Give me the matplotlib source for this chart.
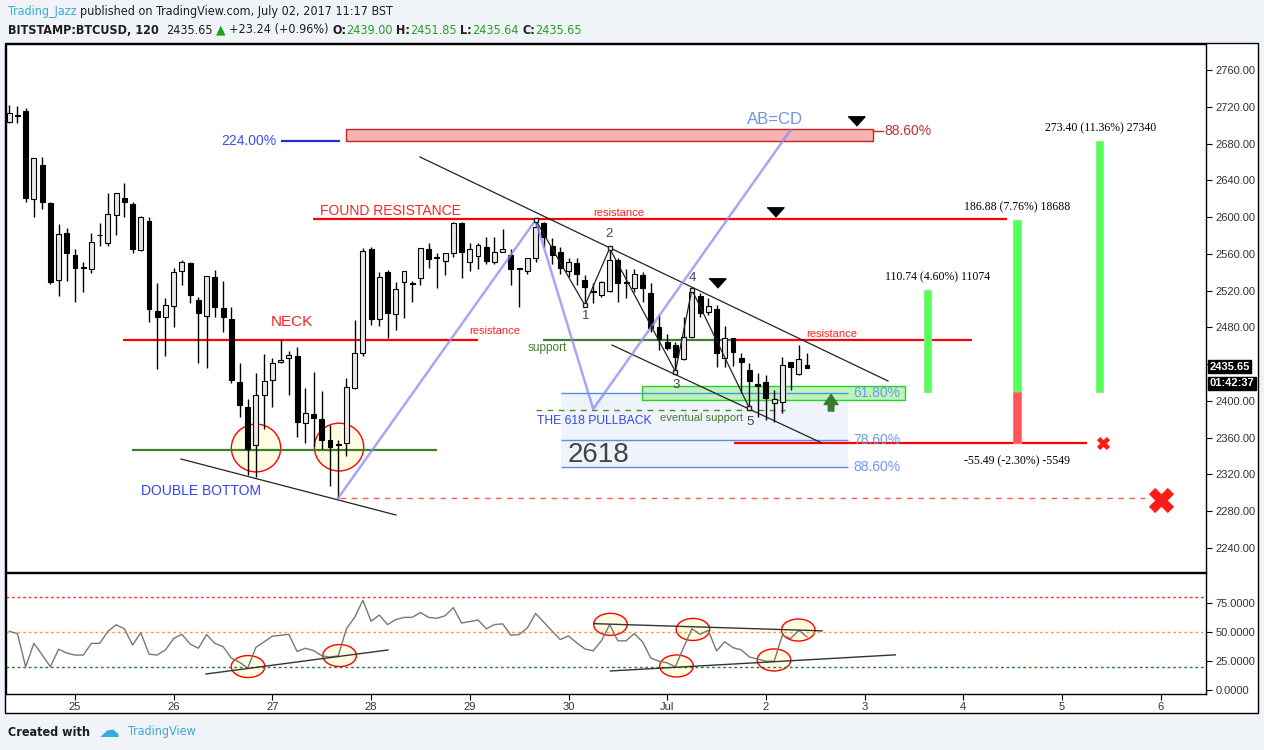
import matplotlib
matplotlib.use('Agg')
import matplotlib.pyplot as plt
import numpy as np
from matplotlib.patches import Rectangle, Ellipse
from matplotlib import font_manager
from matplotlib.font_manager import FontProperties
from matplotlib.transforms import blended_transform_factory

# ---------------- data (2h bars, BITSTAMP:BTCUSD) ----------------
# bar i is at (i - 8) / 12 days after 25 Jun 00:00
opens = [2703, 2711, 2715, 2620, 2657, 2615, 2532, 2583, 2559, 2545.5, 2543, 2580, 2572, 2602, 2621, 2614,
         2564, 2596, 2498, 2491, 2503, 2541, 2550, 2510, 2492, 2535, 2501, 2489, 2421, 2393, 2352, 2406,
         2423, 2442, 2447, 2449, 2376, 2386, 2380, 2358, 2353, 2354, 2414, 2452, 2565, 2489, 2540, 2495,
         2529, 2528, 2534, 2565, 2557, 2552, 2561, 2594, 2551, 2558, 2567, 2551, 2562, 2559, 2545, 2541,
         2555, 2594, 2569, 2562, 2541, 2550, 2532, 2520, 2515, 2520, 2553, 2529, 2523, 2537, 2517, 2480,
         2464, 2461, 2446, 2470, 2514, 2497, 2500, 2447, 2468, 2447, 2434, 2418, 2421, 2398, 2399, 2442,
         2429, 2439.00]
highs = [2722, 2721, 2719, 2664, 2665, 2616, 2592, 2588, 2565, 2551, 2583, 2594, 2626, 2626, 2637, 2616,
         2601, 2600, 2528, 2512, 2545, 2553, 2551, 2513, 2536, 2542, 2531, 2502, 2441, 2402, 2430, 2451,
         2447, 2467, 2454, 2459, 2414, 2431, 2411, 2374, 2358, 2425, 2488, 2566, 2568, 2540, 2542, 2529,
         2541, 2530, 2566, 2572, 2561, 2561, 2595, 2595, 2572, 2572, 2578, 2578, 2587, 2565, 2545, 2556,
         2597, 2595, 2577, 2567, 2556, 2555, 2537, 2528, 2530, 2566, 2555, 2544, 2543, 2540, 2528, 2493,
         2473, 2464, 2491, 2521, 2517, 2512, 2504, 2481, 2469, 2452, 2441, 2430, 2428, 2412, 2448, 2442,
         2461, 2451.85]
lows = [2702, 2702, 2616, 2600, 2609, 2527, 2514, 2530, 2508, 2518, 2539, 2569, 2569, 2580, 2600, 2561,
        2563, 2486, 2435, 2449, 2480, 2526, 2506, 2441, 2436, 2491, 2475, 2419, 2382, 2319, 2317, 2370,
        2393, 2441, 2406, 2361, 2354, 2351, 2348, 2308, 2294, 2340, 2413, 2449, 2483, 2481, 2469, 2477,
        2490, 2508, 2526, 2545, 2523, 2537, 2557, 2534, 2541, 2543, 2549, 2549, 2562, 2526, 2502, 2538,
        2551, 2568, 2549, 2538, 2535, 2526, 2504, 2507, 2513, 2519, 2508, 2512, 2519, 2508, 2475, 2455,
        2455, 2432, 2444, 2468, 2491, 2493, 2437, 2437, 2438, 2409, 2392, 2382, 2379, 2377, 2387, 2412,
        2428, 2435.64]
closes = [2713, 2710, 2621, 2664, 2616, 2529, 2582, 2561, 2545, 2544.5, 2573, 2581, 2603, 2626, 2616, 2565,
          2600, 2500, 2491, 2504, 2540, 2551, 2515, 2496, 2536, 2502, 2491, 2423, 2396, 2348, 2406, 2422,
          2441, 2445, 2450, 2377, 2387, 2381, 2358, 2350, 2352.5, 2415, 2452, 2563, 2489, 2535, 2496, 2522,
          2541, 2527, 2566, 2554, 2555, 2561, 2594, 2562, 2565, 2570, 2552, 2562, 2565, 2543, 2544, 2555,
          2589, 2578, 2559, 2545, 2551, 2538, 2524, 2519, 2529, 2553, 2528, 2528, 2538, 2523, 2479, 2467,
          2458, 2448, 2470, 2518, 2496, 2503, 2452, 2468, 2453, 2442, 2422, 2416, 2403, 2402, 2439, 2437,
          2446, 2435.65]
rsi = [50.6, 48.6, 20.0, 40.2, 30.4, 20.0, 35.1, 31.8, 30.1, 30.1, 40.2, 40.2, 50.6, 56.2, 52.8, 38.8,
       49.4, 30.9, 30.1, 34.6, 44.4, 48.0, 39.6, 36.0, 47.8, 40.2, 37.4, 27.6, 23.9, 18.9, 36.8, 41.6,
       46.4, 47.2, 48.0, 33.2, 36.0, 34.0, 29.5, 28.4, 29.5, 52.8, 62.6, 77.2, 59.3, 64.6, 56.4, 60.7,
       62.6, 62.6, 66.8, 62.6, 61.8, 64.0, 71.0, 57.8, 59.0, 60.4, 52.8, 56.4, 57.0, 47.2, 47.8, 53.6,
       66.0, 58.4, 50.8, 43.5, 46.6, 40.7, 35.4, 33.7, 42.4, 56.4, 42.4, 42.4, 48.6, 41.6, 27.6, 24.8,
       23.4, 20.0, 36.8, 52.8, 48.0, 51.4, 33.7, 41.6, 36.5, 34.6, 28.4, 26.7, 24.8, 24.8, 47.2, 44.4,
       51.4, 45.8]

day_ticks = list(range(12))
day_labels = ['25', '26', '27', '28', '29', '30', 'Jul', '2', '3', '4', '5', '6']
price_ticks = list(range(2240, 2761, 40))
hidden_price_label = 2440          # covered by the last-price tag
rsi_ticks = [0, 25, 50, 75]
rsi_levels = [80, 50, 20]

# drawing tools (time in days from 25 Jun, price in USD)
neck_level, neck_span = 2466.3, (0.49, 4.08)
dbl_bottom_level, dbl_bottom_span = 2346.6, (0.58, 3.67)
found_res_level, found_res_span = 2597.9, (2.41, 9.44)
support_level, support_span, support_red_span = 2466.3, (4.74, 6.67), (6.67, 9.09)
target_box = (2.746, 8.085, 2682.8, 2695.8)
ext_224_span, ext_224_level = (2.087, 2.685), 2682.8
abcd_idx = [40, 64, 71, 95]
abcd_price = [2294.4, 2596.8, 2391.2, 2694.7]
zigzag_idx = [64, 70, 73, 81, 83, 90]
zigzag_price = [2597, 2504, 2566, 2432, 2521, 2392]
wave_labels = ['1', '2', '3', '4', '5']
wave_label_pos = [(5.177, 2492.4), (5.410, 2581.6), (6.089, 2417.3), (6.251, 2533.7), (6.839, 2377.0)]
upper_channel = [(3.495, 2665.4), (8.237, 2421.7)]
lower_channel = [(5.441, 2460.8), (7.568, 2354.2)]
db_trend = [(1.074, 2336.8), (3.252, 2275.9)]
triangles = [(7.913, 2704.5), (7.092, 2605.5), (6.505, 2528.3)]
fib_span = (4.924, 7.832)
fib_levels = [2408.6, 2357.5, 2328.1]
fib_names = ['61.80%', '78.60%', '88.60%']
green_zone = (5.745, 8.409, 2401.0, 2416.2)
eventual_support_level, eventual_support_span = 2390.1, (4.671, 7.194)
stop_level, stop_span = 2354.2, (6.677, 10.253)
low_level, low_span = 2294.4, (2.685, 10.841)
entry = 2409.7
targets = [2520.4, 2596.6, 2683.1]
target_x = [8.637, 9.544, 10.380]
target_texts = ['110.74 (4.60%) 11074', '186.88 (7.76%) 18688', '273.40 (11.36%) 27340']
stop_text = '-55.49 (-2.30%) -5549'
price_circles = [(1.834, 2348.8), (2.675, 2349.8)]
rsi_circles = [(1.753, 20.2), (2.681, 29.7), (5.425, 56.6), (6.261, 52.2), (6.094, 20.7),
               (7.082, 25.9), (7.328, 51.7)]
rsi_lines = [[(1.327, 13.8), (3.170, 34.5)], [(5.258, 57.2), (7.568, 51.0)],
             [(5.425, 16.4), (8.312, 30.3)]]

# ---------------- figure ----------------
W, H = 1264, 750
fig = plt.figure(figsize=(W / 100, H / 100), dpi=100)
fig.patch.set_facecolor('#f0f3f7')

def fx(px):
    return px / W

def fy(py):
    return 1 - py / H

SANS = 'Liberation Sans'
SERIF = 'Liberation Serif'

# condensed font for header, if one is installed
cond_reg, cond_bold = None, None
for f in font_manager.fontManager.ttflist:
    fn = f.fname.lower()
    if ('condensed' in fn or 'narrow' in fn) and 'sans' in fn and 'mono' not in fn and 'oblique' not in fn and 'italic' not in fn:
        if 'bold' in fn:
            cond_bold = cond_bold or f.fname
        else:
            cond_reg = cond_reg or f.fname
HEAD_SIZE = 9 if cond_reg else 8

def head_props(weight):
    if weight == 'bold' and cond_bold:
        return FontProperties(fname=cond_bold, size=HEAD_SIZE)
    if cond_reg:
        return FontProperties(fname=cond_reg, size=HEAD_SIZE)
    return FontProperties(family=['Roboto', 'DejaVu Sans'], size=HEAD_SIZE, weight=weight)

frame = Rectangle((fx(5), fy(713)), fx(1258) - fx(5), fy(43) - fy(713),
                  transform=fig.transFigure, facecolor='white', edgecolor='black', lw=1, zorder=-5)
fig.add_artist(frame)

ax = fig.add_axes([fx(6), fy(572), fx(1206) - fx(6), fy(44) - fy(572)])
axr = fig.add_axes([fx(6), fy(694), fx(1206) - fx(6), fy(573) - fy(694)])
XL = ((6 - 75) / 98.7, (1206 - 75) / 98.7)
for a in (ax, axr):
    a.set_xlim(*XL)
    a.set_facecolor('white')
    for s in a.spines.values():
        s.set_color('black')
        s.set_linewidth(1)
ax.set_ylim(2213.9, 2788.3)
axr.set_ylim(-3.45, 100.86)

o = np.array(opens); h = np.array(highs); l = np.array(lows); c = np.array(closes)
t = (np.arange(len(o)) - 8) / 12
bull = c >= o
ax.vlines(t, l, h, color='black', lw=1, zorder=3)
ax.bar(t[~bull], np.maximum(o - c, 0.8)[~bull], bottom=c[~bull], width=0.05,
       color='black', edgecolor='black', lw=0.8, zorder=4)
ax.bar(t[bull], np.maximum(c - o, 0.8)[bull], bottom=o[bull], width=0.05,
       facecolor='#e8e8e8', edgecolor='black', lw=0.8, zorder=4)

# ticks
ax.yaxis.tick_right()
ax.set_yticks(price_ticks)
ax.set_yticklabels(['' if v == hidden_price_label else '%.2f' % v for v in price_ticks])
ax.tick_params(axis='y', direction='out', length=4, labelsize=8, labelcolor='#333333', pad=3)
ax.set_xticks([])
axr.yaxis.tick_right()
axr.set_yticks(rsi_ticks)
axr.set_yticklabels(['%.4f' % v for v in rsi_ticks])
axr.tick_params(axis='y', direction='out', length=4, labelsize=8, labelcolor='#333333', pad=3)
axr.set_xticks(day_ticks)
axr.set_xticklabels(day_labels)
axr.tick_params(axis='x', direction='out', length=4, labelsize=8, labelcolor='#333333', pad=2)
for lab in ax.get_yticklabels() + axr.get_yticklabels() + axr.get_xticklabels():
    lab.set_family(SANS)

# ---- drawings on price pane ----
def hline(level, span, color, lw=1.6, ls='-', z=2):
    ax.plot(span, [level, level], color=color, lw=lw, ls=ls, zorder=z, solid_capstyle='butt')

ax.add_patch(Rectangle((fib_span[0], fib_levels[2]), fib_span[1] - fib_span[0],
                       fib_levels[0] - fib_levels[2], facecolor='#eef3fc', edgecolor='none', zorder=0.5))
for lv, nm in zip(fib_levels, fib_names):
    hline(lv, fib_span, '#5b8de0', lw=1)
    ax.text(fib_span[1] + 0.05, lv, nm, color='#6f9ae6', fontsize=10, family=SANS, va='center', ha='left')
gz = green_zone
ax.add_patch(Rectangle((gz[0], gz[2]), gz[1] - gz[0], gz[3] - gz[2], facecolor='#b8f5b8',
                       edgecolor='#22cc22', lw=1, zorder=1.5, alpha=0.95))

for (cx, cy) in price_circles:
    ax.add_patch(Ellipse((cx, cy), 0.5, 52, facecolor='#fffde2', edgecolor='red', lw=1, zorder=1))

hline(neck_level, neck_span, 'red')
hline(dbl_bottom_level, dbl_bottom_span, '#3f7f2a')
hline(found_res_level, found_res_span, 'red')
hline(support_level, support_span, '#3f7f2a')
hline(support_level, support_red_span, 'red')
hline(stop_level, stop_span, 'red')
hline(eventual_support_level, eventual_support_span, '#4a8a2a', lw=1, ls=(0, (4, 4)))
hline(low_level, low_span, '#ff5a5a', lw=1, ls=(0, (4, 4)))
hline(ext_224_level, ext_224_span, '#2b2bdd', lw=1.6)

tb = target_box
ax.add_patch(Rectangle((tb[0], tb[2]), tb[1] - tb[0], tb[3] - tb[2], facecolor='#f6b3b3',
                       edgecolor='#cc2222', lw=1, zorder=2))
ax.plot([tb[1], tb[1] + 0.1], [2693.6, 2693.6], color='#cc2222', lw=1)
ax.text(tb[1] + 0.12, 2693.6, '88.60%', color='#b83232', fontsize=10, family=SANS, va='center')
ax.text(ext_224_span[0] - 0.05, ext_224_level, '224.00%', color='#3f4fe6', fontsize=10,
        family=SANS, va='center', ha='right')

for pts in (upper_channel, lower_channel, db_trend):
    ax.plot([pts[0][0], pts[1][0]], [pts[0][1], pts[1][1]], color='#222222', lw=0.9, zorder=5)

ax.plot(t[abcd_idx], abcd_price, color='#8a8af5', lw=1.8, alpha=0.75, zorder=5)
ax.text(7.092, 2706.7, 'AB=CD', color='#7293de', fontsize=12, family=SANS, ha='center', va='center')
ax.plot(t[zigzag_idx], zigzag_price, color='#222222', lw=0.9, zorder=5,
        marker='s', ms=2.5, mfc='white', mec='#222222')
for lab, (lx, ly) in zip(wave_labels, wave_label_pos):
    ax.text(lx, ly, lab, color='#444444', fontsize=9.5, family=SANS, ha='center', va='center')

tri = [(-1, 0.55), (1, 0.55), (0, -0.55)]
ax.scatter([p[0] for p in triangles], [p[1] for p in triangles], marker=tri, s=150,
           color='black', zorder=6)

# position tool bars
bw = 0.075
for tx, tg in zip(target_x, targets):
    ax.add_patch(Rectangle((tx - bw / 2, entry), bw, tg - entry, facecolor='#55ff55',
                           edgecolor='#8af08a', lw=0.8, zorder=3))
ax.add_patch(Rectangle((target_x[1] - bw / 2, stop_level), bw, entry - stop_level,
                       facecolor='#ff5555', edgecolor='#ff8080', lw=0.8, zorder=3))
ax.text(8.744, 2534.8, target_texts[0], family=SERIF, fontsize=8.5, ha='center', va='center')
ax.text(target_x[1], 2611.0, target_texts[1], family=SERIF, fontsize=8.5, ha='center', va='center')
ax.text(10.39, 2697.0, target_texts[2], family=SERIF, fontsize=8.5, ha='center', va='center')
ax.text(target_x[1], 2334.6, stop_text, family=SERIF, fontsize=8.5, ha='center', va='center')

ax.scatter([10.415], [stop_level], marker='X', s=90, color='#ff1a1a', zorder=6, linewidths=0)
ax.scatter([11.003], [2292.2], marker='X', s=330, color='#ff1a1a', zorder=6, linewidths=0)

ax.annotate('', xy=(7.66, 2407.0), xytext=(7.66, 2389.0),
            arrowprops=dict(arrowstyle='simple,head_length=0.9,head_width=1.25,tail_width=0.5',
                            fc='#3a7a2c', ec='#3a7a2c', mutation_scale=8, shrinkA=0, shrinkB=0))

# text labels
ax.text(2.199, 2485.9, 'NECK', color='#ff2020', fontsize=11, family=SANS, ha='center', va='center')
ax.text(4.255, 2476.1, 'resistance', color='#ff2020', fontsize=8, family=SANS, ha='center', va='center')
ax.text(3.191, 2606.6, 'FOUND RESISTANCE', color='#ff2020', fontsize=10, family=SANS, ha='center', va='center')
ax.text(5.512, 2604.4, 'resistance', color='#ff2020', fontsize=8, family=SANS, ha='center', va='center')
ax.text(4.782, 2457.6, 'support', color='#3f7f2a', fontsize=8.5, family=SANS, ha='center', va='center')
ax.text(7.670, 2472.8, 'resistance', color='#ff2020', fontsize=8, family=SANS, ha='center', va='center')
ax.text(1.277, 2302.0, 'DOUBLE BOTTOM', color='#3344ee', fontsize=10, family=SANS, ha='center', va='center')
ax.text(4.681, 2378.0, 'THE 618 PULLBACK', color='#3344ee', fontsize=8.7, family=SANS, ha='left', va='center')
ax.text(5.927, 2381.4, 'eventual support', color='#4a7a2a', fontsize=8, family=SANS, ha='left', va='center')
ax.text(4.995, 2341.0, '2618', color='#444444', fontsize=20, family=SANS, ha='left', va='center')

# last price tags
tr = blended_transform_factory(ax.transAxes, ax.transData)
ax.text(1.003, 2437.2, '2435.65', transform=tr, color='white', fontsize=8, fontweight='bold',
        family=SANS, va='center', ha='left',
        bbox=dict(boxstyle='square,pad=0.12', fc='black', ec='black'), clip_on=False)
ax.text(1.003, 2419.0, '01:42:37', transform=tr, color='white', fontsize=8, fontweight='bold',
        family=SANS, va='center', ha='left',
        bbox=dict(boxstyle='square,pad=0.12', fc='black', ec='black'), clip_on=False)

# ---- RSI pane ----
for lv, col in zip(rsi_levels, ['#ff3030', '#ff9a30', '#2f7a2f']):
    axr.axhline(lv, color=col, lw=1, ls=(0, (2, 2)))
for (cx, cy) in rsi_circles:
    axr.add_patch(Ellipse((cx, cy), 0.34, 19, facecolor='#fffde2', edgecolor='red', lw=1, zorder=1))
axr.plot(t, rsi, color='#777777', lw=1, zorder=3)
for pts in rsi_lines:
    axr.plot([pts[0][0], pts[1][0]], [pts[0][1], pts[1][1]], color='#333333', lw=1, zorder=4)

# ---- header / footer ----
renderer = fig.canvas.get_renderer()

def pieces(items, x0, y0):
    x = x0
    for txt, col, wt in items:
        if txt == ' ':
            x += HEAD_SIZE * 0.4
            continue
        if txt == '\u25B2':
            tt = fig.text(fx(x), fy(y0), txt, color=col, fontsize=HEAD_SIZE,
                          family=['DejaVu Sans'], va='center', ha='left')
        else:
            tt = fig.text(fx(x), fy(y0), txt, color=col, fontproperties=head_props(wt),
                          va='center', ha='left')
        x += tt.get_window_extent(renderer).width
    return x

G = '#1fa31f'
D = '#1e1e1e'
pieces([('Trading_Jazz', '#3aa9dc', 'normal'), (' ', None, None),
        ('published on TradingView.com, July 02, 2017 11:17 BST', D, 'normal')], 8, 12)
pieces([('BITSTAMP:BTCUSD, 120', D, 'bold'), (' ', None, None), (' ', None, None),
        ('2435.65', D, 'normal'), (' ', None, None), ('\u25B2', G, 'normal'), (' ', None, None),
        ('+23.24 (+0.96%)', D, 'normal'), (' ', None, None),
        ('O:', D, 'bold'), ('2439.00', G, 'normal'), (' ', None, None),
        ('H:', D, 'bold'), ('2451.85', G, 'normal'), (' ', None, None),
        ('L:', D, 'bold'), ('2435.64', G, 'normal'), (' ', None, None),
        ('C:', D, 'bold'), ('2435.65', G, 'normal')], 8, 30)
xe = pieces([('Created with', D, 'bold')], 8, 732)
fig.text(fx(xe + 9), fy(731), '\u2601', color='#3aa9dc', fontsize=15, family=['DejaVu Sans'],
         va='center', ha='left')
pieces([('TradingView', '#3aa9dc', 'normal')], xe + 38, 732)

fig.savefig('out.png', dpi=100, facecolor=fig.get_facecolor())
